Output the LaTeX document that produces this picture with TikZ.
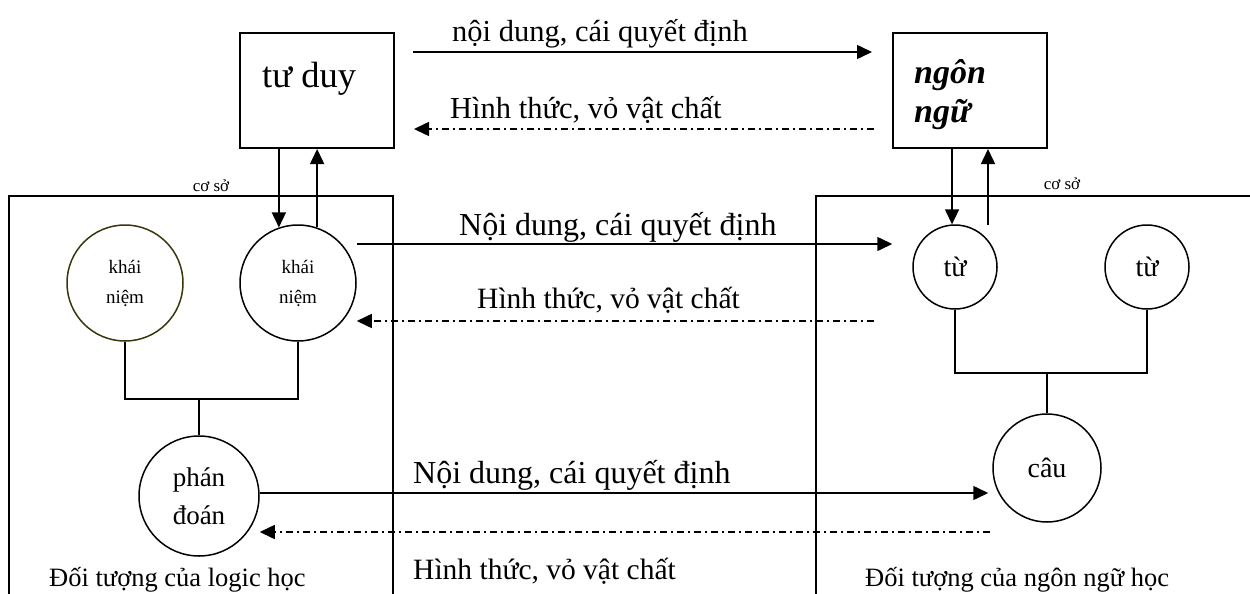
\documentclass[tikz,border=0pt]{standalone}
\usepackage{fontspec}
\setmainfont{Liberation Serif}
\usetikzlibrary{positioning, calc, arrows.meta}

\definecolor{reu}{RGB}{58,54,12}
\newcommand{\cochu}[1]{\fontsize{#1}{#1}\selectfont}

\tikzset{
	hop/.style={draw, line width=2pt, minimum width=154pt, minimum height=115pt},
	vong/.style={draw, circle, line width=1.5pt, inner sep=0pt, align=center},
	noi/.style={line width=1.5pt},
	toi/.style={line width=1.5pt, -{Triangle[length=15pt, width=14pt]}},
	lui/.style={line width=1.5pt, dash pattern=on 7pt off 4pt on 2pt off 4pt, -{Triangle[length=15pt, width=14pt]}},
	chu/.style={inner sep=0pt, anchor=base west},
}

\begin{document}
\begin{tikzpicture}[x=1pt, y=-1pt]
	\useasboundingbox (0,0) rectangle (1250,594);
	% hai khung doi tuong
	\draw[line width=2pt] (9,594) -- (9,196) -- (393,196) -- (393,594);
	\draw[line width=2pt] (816,594) -- (816,196) -- (1250,196);
	\node[font=\cochu{17}] at (211,186) {cơ sở};
	\node[font=\cochu{17}] at (1062,184) {cơ sở};

	\node[hop] (tuduy) at (317,90.5) {};
	\node[hop] (ngon) at (970,90.5) {};
	\node[chu, font=\cochu{36.5}] at (262,87) {tư duy};
	\node[chu, font=\fontsize{34}{39}\selectfont\bfseries\itshape, align=left] at (914,122) {ngôn\\ngữ};

	\node[vong, minimum size=116pt, draw=reu, font=\fontsize{19}{30}\selectfont] (kn1) at (125,283) {khái\\niệm};
	\node[vong, minimum size=116pt, font=\fontsize{19}{30}\selectfont] (kn2) at (298,283) {khái\\niệm};
	\node[vong, minimum size=120pt, font=\fontsize{27}{38}\selectfont] (phan) at (199,496) {phán\\đoán};
	\node[vong, minimum size=84pt, font=\cochu{28}] (tu1) at (955,267) {từ};
	\node[vong, minimum size=84pt, font=\cochu{28}] (tu2) at (1147,267) {từ};
	\node[vong, minimum size=108pt, font=\cochu{28}] (cau) at (1047,468) {câu};

	\draw[noi] (kn1.south) -- ++(0,57) -| (kn2.south);
	\draw[noi] (phan.north) -- (phan.north |- 0,398);
	\draw[noi] (tu1.south) -- ++(0,63) -| (tu2.south);
	\draw[noi] (cau.north) -- (cau.north |- 0,372);

	\draw[toi] (kn2.109 |- tuduy.south) -- (kn2.109);
	\draw[toi] (kn2.71) -- (kn2.71 |- tuduy.south);
	\draw[toi] (ngon.south -| tu1.94) -- (tu1.94);
	\coordinate (tulen) at (988,225);
	\draw[toi] (tulen) -- (tulen |- ngon.south);

	\draw[toi, shorten <=18pt, shorten >=20pt] (tuduy.east |- 0,52) -- (ngon.west |- 0,52);
	\draw[lui, shorten <=18pt, shorten >=19pt] (ngon.west |- 0,129) -- (tuduy.east |- 0,129);
	\draw[toi, shorten >=20pt] (kn2.east |- 0,244) -- (tu1.west |- 0,244);
	\draw[lui, shorten <=38pt] (tu1.west |- 0,321) -- (kn2.east |- 0,321);
	\draw[toi, shorten >=4pt] (phan.east |- 0,493) -- (cau.west |- 0,493);
	\draw[lui, shorten <=2pt] (cau.west |- 0,532) -- (phan.east |- 0,532);

	\node[chu, font=\cochu{30.5}] at (452,42) {nội dung, cái quyết định};
	\node[chu, font=\cochu{30.5}] at (450,118) {Hình thức, vỏ vật chất};
	\node[chu, font=\cochu{32}] at (459,235) {Nội dung, cái quyết định};
	\node[chu, font=\cochu{29.5}] at (477,308) {Hình thức, vỏ vật chất};
	\node[chu, font=\cochu{32}] at (413,483) {Nội dung, cái quyết định};
	\node[chu, font=\cochu{29.5}] at (413,579) {Hình thức, vỏ vật chất};
	\node[chu, font=\cochu{26.5}] at (49,586) {Đối tượng của logic học};
	\node[chu, font=\cochu{26.5}] at (865,586) {Đối tượng của ngôn ngữ học};
\end{tikzpicture}
\end{document}
